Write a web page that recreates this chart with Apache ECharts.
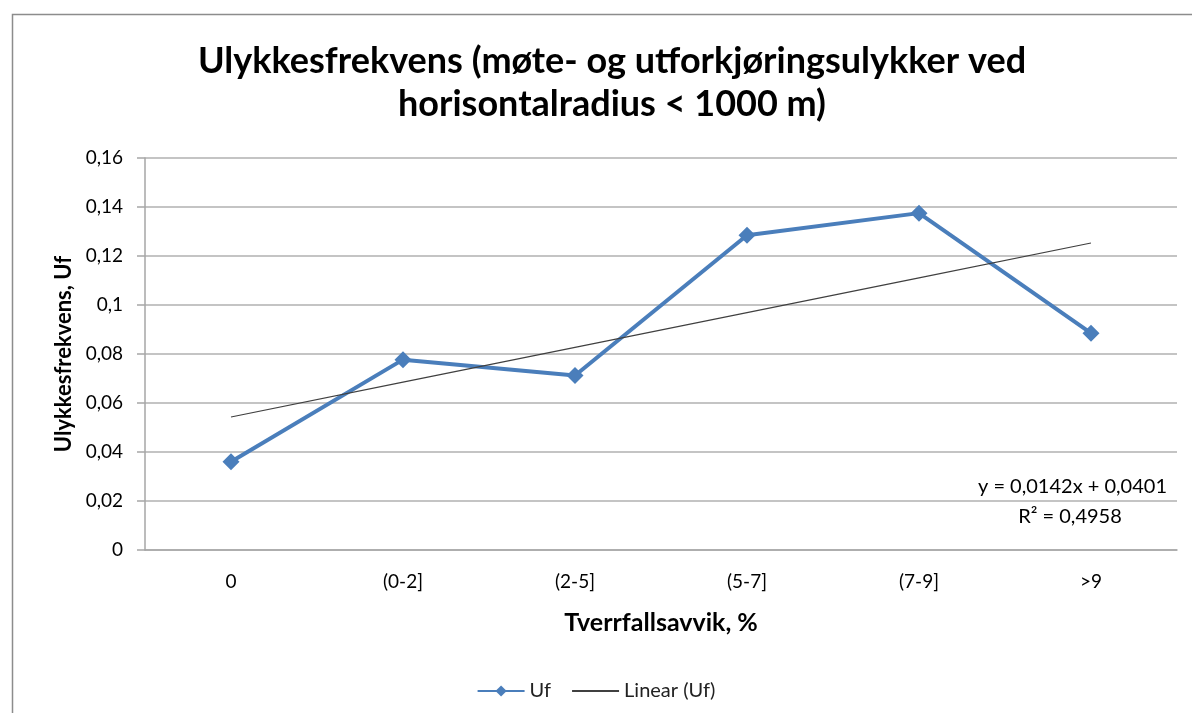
<!DOCTYPE html>
<html>
<head>
<meta charset="utf-8">
<script src="https://cdn.jsdelivr.net/npm/echarts@6/dist/echarts.min.js"></script>
<style>
  html, body { margin: 0; padding: 0; background: #fff; }
  #main { width: 1192px; height: 713px; }
</style>
</head>
<body>
<div id="main"></div>
<script>
// kategorier og verdier lest av figuren
var kategorier = ['0', '(0-2]', '(2-5]', '(5-7]', '(7-9]', '>9'];
var uf = [0.036, 0.0777, 0.0712, 0.1285, 0.1375, 0.0885];
// lineær trendlinje (Excel), avlest i hvert kategoripunkt
var linear = [0.0543, 0.0685, 0.0827, 0.0969, 0.1111, 0.1253];
var yTicks = [0, 0.02, 0.04, 0.06, 0.08, 0.1, 0.12, 0.14, 0.16];

var chartDom = document.getElementById('main');
var myChart = echarts.init(chartDom);
var option;
var fontFam = 'Lato, "Open Sans", sans-serif';

option = {
    backgroundColor: '#fff',
    animation: false,
    title: {
        text: 'Ulykkesfrekvens (møte- og utforkjøringsulykker ved\nhorisontalradius < 1000 m)',
        left: 607,
        textAlign: 'center',
        top: 35,
        textStyle: {
            fontFamily: fontFam,
            fontWeight: 'bold',
            fontSize: 36,
            lineHeight: 43,
            color: '#000'
        }
    },
    legend: {
        top: 676,
        left: 'center',
        itemWidth: 47,
        itemHeight: 14,
        itemGap: 20,
        textStyle: { fontFamily: fontFam, fontSize: 20, color: '#222' },
        data: [
            'Uf',
            { name: 'Linear (Uf)', itemStyle: { opacity: 0 } }
        ]
    },
    grid: {
        left: 145,
        right: 15,
        top: 158,
        bottom: 163
    },
    xAxis: {
        type: 'category',
        data: kategorier,
        boundaryGap: true,
        name: 'Tverrfallsavvik, %',
        nameLocation: 'middle',
        nameGap: 60,
        nameTextStyle: { fontFamily: fontFam, fontWeight: 'bold', fontSize: 25, color: '#000' },
        axisLine: { lineStyle: { color: '#a6a6a6', width: 1.5 } },
        axisTick: { show: false },
        axisLabel: { fontFamily: fontFam, fontSize: 19, color: '#000', margin: 22 }
    },
    yAxis: {
        type: 'value',
        min: 0,
        max: 0.16,
        interval: 0.02,
        name: 'Ulykkesfrekvens, Uf',
        nameLocation: 'middle',
        nameGap: 68,
        nameTextStyle: { fontFamily: fontFam, fontWeight: 'bold', fontSize: 22, color: '#000' },
        axisLine: { show: true, lineStyle: { color: '#a6a6a6', width: 1.5 } },
        axisTick: { show: true, length: 8, lineStyle: { color: '#a6a6a6', width: 1.5 } },
        splitLine: { lineStyle: { color: '#b0b0b0', width: 1.5 } },
        axisLabel: {
            fontFamily: fontFam,
            fontSize: 19,
            color: '#000',
            margin: 22,
            formatter: function (v) {
                var i = yTicks.indexOf(+v.toFixed(2));
                var t = i >= 0 ? yTicks[i] : v;
                return String(t).replace('.', ',');
            }
        }
    },
    series: [
        {
            name: 'Uf',
            type: 'line',
            data: uf,
            symbol: 'diamond',
            symbolSize: 17,
            itemStyle: { color: '#4a7ebb' },
            lineStyle: { color: '#4a7ebb', width: 4 },
            z: 3
        },
        {
            name: 'Linear (Uf)',
            type: 'line',
            data: linear,
            symbol: 'none',
            itemStyle: { color: '#404040' },
            lineStyle: { color: '#404040', width: 1.2 },
            z: 4
        }
    ],
    graphic: [
        {
            type: 'rect',
            left: 10,
            top: 12,
            shape: { width: 1200, height: 720 },
            style: { fill: 'none', stroke: '#8c8c8c', lineWidth: 1.5 },
            silent: true,
            z: -1
        },
        {
            type: 'text',
            x: 1167,
            y: 487,
            style: {
                text: 'y = 0,0142x + 0,0401',
                font: '20px ' + fontFam,
                fill: '#000',
                align: 'right',
                verticalAlign: 'middle'
            }
        },
        {
            type: 'text',
            x: 1070,
            y: 517,
            style: {
                text: 'R² = 0,4958',
                font: '20px ' + fontFam,
                fill: '#000',
                align: 'center',
                verticalAlign: 'middle'
            }
        }
    ]
};
option && myChart.setOption(option);
</script>
</body>
</html>
